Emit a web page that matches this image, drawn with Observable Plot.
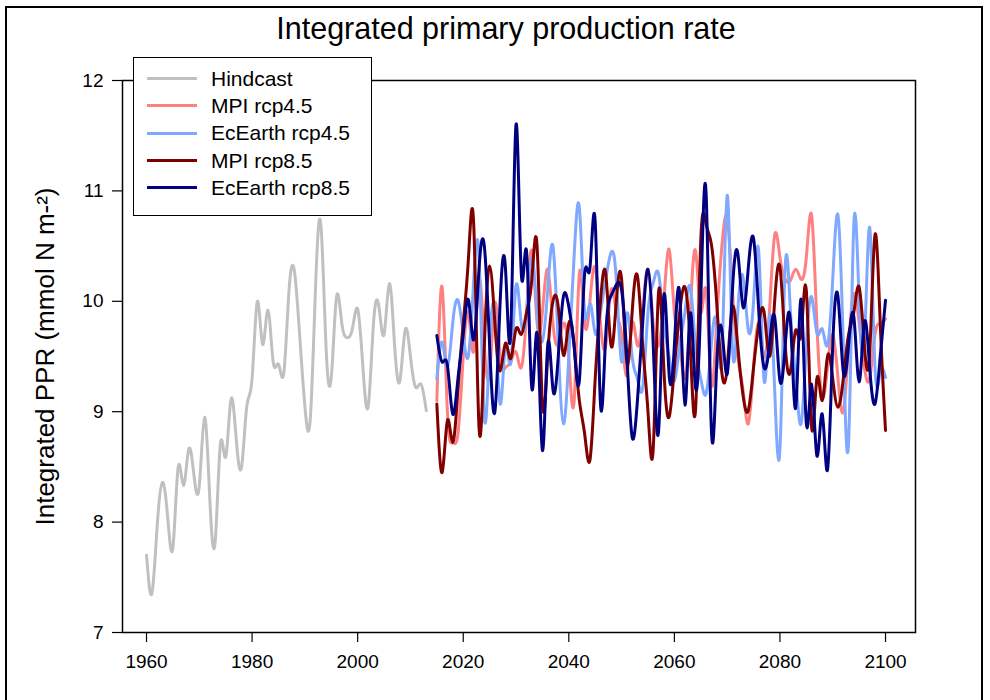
<!DOCTYPE html>
<html><head><meta charset="utf-8">
<script src="https://cdn.jsdelivr.net/npm/d3@7"></script>
<script src="https://cdn.jsdelivr.net/npm/@observablehq/plot@0.6"></script>
<style>
body{margin:0;background:#fff;font-family:"Liberation Sans",Arial,sans-serif;}
#page{position:relative;width:990px;height:700px;overflow:hidden;background:#fff;}
#border{position:absolute;left:5px;top:6px;width:978px;height:740px;border:2px solid #000;box-sizing:border-box;}
#title{position:absolute;left:0;width:1012px;top:13px;text-align:center;font-size:30.5px;line-height:30px;color:#000;}
#chart{position:absolute;left:0;top:0;}
#legend{position:absolute;left:133px;top:57px;width:239px;height:159px;border:1.5px solid #000;box-sizing:border-box;background:#fff;padding-top:7px;}
.row{height:27.3px;display:flex;align-items:center;font-size:21px;color:#000;}
.swatch{width:50px;height:3px;margin-left:13px;margin-right:14px;}
</style></head>
<body>
<div id="page">
  <div id="border"></div>
  <div id="chart"></div>
  <div id="title"></div>
  <div id="legend"></div>
</div>
<script>
const titleText = "Integrated primary production rate";
const yLabel = "Integrated PPR (mmol N m-²)";
const xTicks = [1960, 1980, 2000, 2020, 2040, 2060, 2080, 2100];
const yTicks = [7, 8, 9, 10, 11, 12];

const seriesNames = ["Hindcast", "MPI rcp4.5", "EcEarth rcp4.5", "MPI rcp8.5", "EcEarth rcp8.5"];
const seriesColors = ["#c0c0c0", "#ff8080", "#80a8ff", "#800000", "#000080"];

const hindcastStart = 1960;
const hindcast = [7.70, 7.35, 7.95, 8.36, 8.05, 7.77, 8.50, 8.33, 8.66, 8.42,
  8.33, 8.95, 8.20, 7.82, 8.71, 8.59, 9.11, 8.75, 8.50, 9.05,
  9.30, 10.00, 9.61, 9.92, 9.45, 9.43, 9.35, 10.10, 10.28, 9.70,
  9.05, 8.92, 10.10, 10.71, 9.60, 9.31, 10.04, 9.80, 9.67, 9.75,
  9.93, 9.40, 9.05, 9.80, 9.96, 9.70, 10.16, 9.60, 9.28, 9.74,
  9.50, 9.22, 9.25, 9.01];

const projStart = 2015;
const mpi45 = [9.10, 10.13, 9.00, 8.72, 8.80,
  9.50, 9.89, 9.55, 10.20, 9.60, 9.35, 9.99, 9.50, 9.40, 9.45,
  9.54, 9.40, 9.90, 10.46, 9.80, 9.90, 10.29, 9.80, 9.61, 9.80,
  9.50, 9.09, 10.25, 9.80, 10.00, 10.31, 9.80, 9.60, 10.10, 9.90,
  9.70, 9.33, 9.80, 9.60, 9.90, 10.29, 9.80, 9.60, 10.00, 10.47,
  9.90, 9.60, 9.30, 9.90, 10.46, 9.90, 10.10, 9.25, 9.80, 10.50,
  10.76, 10.10, 9.50, 9.20, 8.89, 9.40, 9.80, 9.50, 9.90, 10.60,
  10.40, 10.20, 10.19, 10.29, 10.20, 10.40, 10.78, 9.80, 9.13, 9.40,
  9.70, 9.30, 9.00, 9.60, 10.07, 9.80, 9.40, 9.30, 9.70, 9.80, 9.84];
const ec45 = [9.30, 9.63, 9.40, 9.80, 10.01,
  9.70, 9.51, 10.20, 10.40, 8.94, 9.60, 9.89, 9.07, 9.60, 9.44,
  10.14, 9.80, 9.90, 10.39, 9.90, 9.64, 10.10, 10.50, 9.60, 8.89,
  9.50, 10.40, 10.85, 9.90, 9.98, 9.71, 9.90, 10.20, 10.44, 10.20,
  9.45, 9.89, 9.50, 9.30, 9.22, 9.90, 10.17, 10.25, 9.80, 9.50,
  9.28, 9.60, 9.90, 10.13, 9.60, 9.30, 9.16, 9.60, 9.80, 9.50,
  10.96, 9.58, 9.90, 10.22, 9.74, 10.00, 10.44, 9.28, 9.86, 9.20,
  8.66, 10.32, 9.90, 9.30, 8.89, 9.60, 10.04, 9.71, 9.75, 9.60,
  10.20, 10.78, 9.60, 8.72, 10.70, 10.00, 9.63, 10.67, 9.40, 9.36, 9.31];
const mpi85 = [9.07, 8.45, 8.92, 8.72, 9.20,
  9.80, 10.40, 10.68, 8.85, 9.60, 10.32, 9.80, 9.37, 9.62, 9.48,
  9.75, 9.70, 9.90, 10.20, 10.49, 9.07, 9.50, 10.00, 9.95, 9.51,
  9.80, 9.60, 9.10, 8.80, 8.56, 9.30, 10.00, 10.25, 9.60, 10.00,
  10.20, 9.45, 9.90, 10.23, 9.60, 9.00, 8.67, 10.08, 9.40, 8.95,
  9.40, 9.90, 10.13, 9.60, 9.01, 10.55, 10.70, 10.52, 10.00, 9.35,
  9.40, 9.95, 9.60, 9.15, 9.01, 9.40, 9.80, 9.90, 9.50, 10.00,
  10.31, 9.60, 9.37, 9.74, 9.70, 10.10, 8.86, 9.30, 9.10, 9.50,
  9.30, 9.04, 9.30, 9.70, 9.90, 10.13, 9.60, 9.53, 10.60, 9.80, 8.83];
const ec85 = [9.69, 9.45, 9.42, 8.98, 9.30,
  9.70, 10.01, 9.65, 10.30, 10.50, 9.60, 9.00, 10.00, 10.30, 9.72,
  11.60, 10.25, 10.45, 9.21, 9.71, 8.65, 9.60, 9.20, 9.50, 10.05,
  9.95, 9.60, 9.28, 10.25, 10.30, 10.72, 9.07, 9.70, 10.05, 10.15,
  10.10, 9.50, 8.77, 9.10, 9.80, 10.29, 9.60, 8.82, 10.05, 9.34,
  9.60, 10.07, 9.06, 9.89, 9.22, 10.00, 10.99, 8.85, 9.40, 9.74,
  9.34, 10.10, 10.44, 9.95, 10.30, 10.57, 9.90, 9.40, 9.60, 9.86,
  9.28, 9.60, 9.81, 9.04, 10.02, 8.89, 9.25, 8.60, 8.98, 8.47,
  9.60, 10.04, 9.36, 9.60, 9.86, 9.27, 9.81, 9.40, 9.07, 9.50, 10.01];

const toRows = (start, vals) => vals.map((v, i) => ({year: start + i, value: v}));
const seriesData = [
  toRows(hindcastStart, hindcast),
  toRows(projStart, mpi45),
  toRows(projStart, ec45),
  toRows(projStart, mpi85),
  toRows(projStart, ec85)
];

document.getElementById("title").textContent = titleText;

const lineMarks = seriesData.map((rows, i) =>
  Plot.line(rows, {x: "year", y: "value", stroke: seriesColors[i], strokeWidth: 3, curve: "natural"})
);

const chart = Plot.plot({
  width: 990, height: 700,
  marginLeft: 122, marginRight: 75, marginTop: 80, marginBottom: 68,
  x: {domain: [1955.45, 2105.68]},
  y: {domain: [7, 12]},
  style: {fontFamily: '"Liberation Sans", Arial, sans-serif', fontSize: "18px", color: "#000", background: "transparent", overflow: "visible"},
  marks: [
    ...lineMarks,
    Plot.frame({stroke: "#000", strokeWidth: 1.5}),
    Plot.axisX({ticks: xTicks, tickSize: 10, tickPadding: 12, tickFormat: d => String(d), label: null, fontSize: 19, strokeWidth: 1.2}),
    Plot.axisY({ticks: yTicks, tickSize: 10, tickPadding: 9, tickFormat: d => String(d), label: null, fontSize: 19, strokeWidth: 1.2}),
    Plot.text([yLabel], {text: d => d, frameAnchor: "left", textAnchor: "middle", lineAnchor: "middle", rotate: -90, dx: -77, fontSize: 26, fill: "#000"})
  ]
});
document.getElementById("chart").appendChild(chart);

const legend = document.getElementById("legend");
seriesNames.forEach((name, i) => {
  const row = document.createElement("div");
  row.className = "row";
  const sw = document.createElement("div");
  sw.className = "swatch";
  sw.style.background = seriesColors[i];
  const label = document.createElement("span");
  label.textContent = name;
  row.appendChild(sw);
  row.appendChild(label);
  legend.appendChild(row);
});
</script>
</body></html>
